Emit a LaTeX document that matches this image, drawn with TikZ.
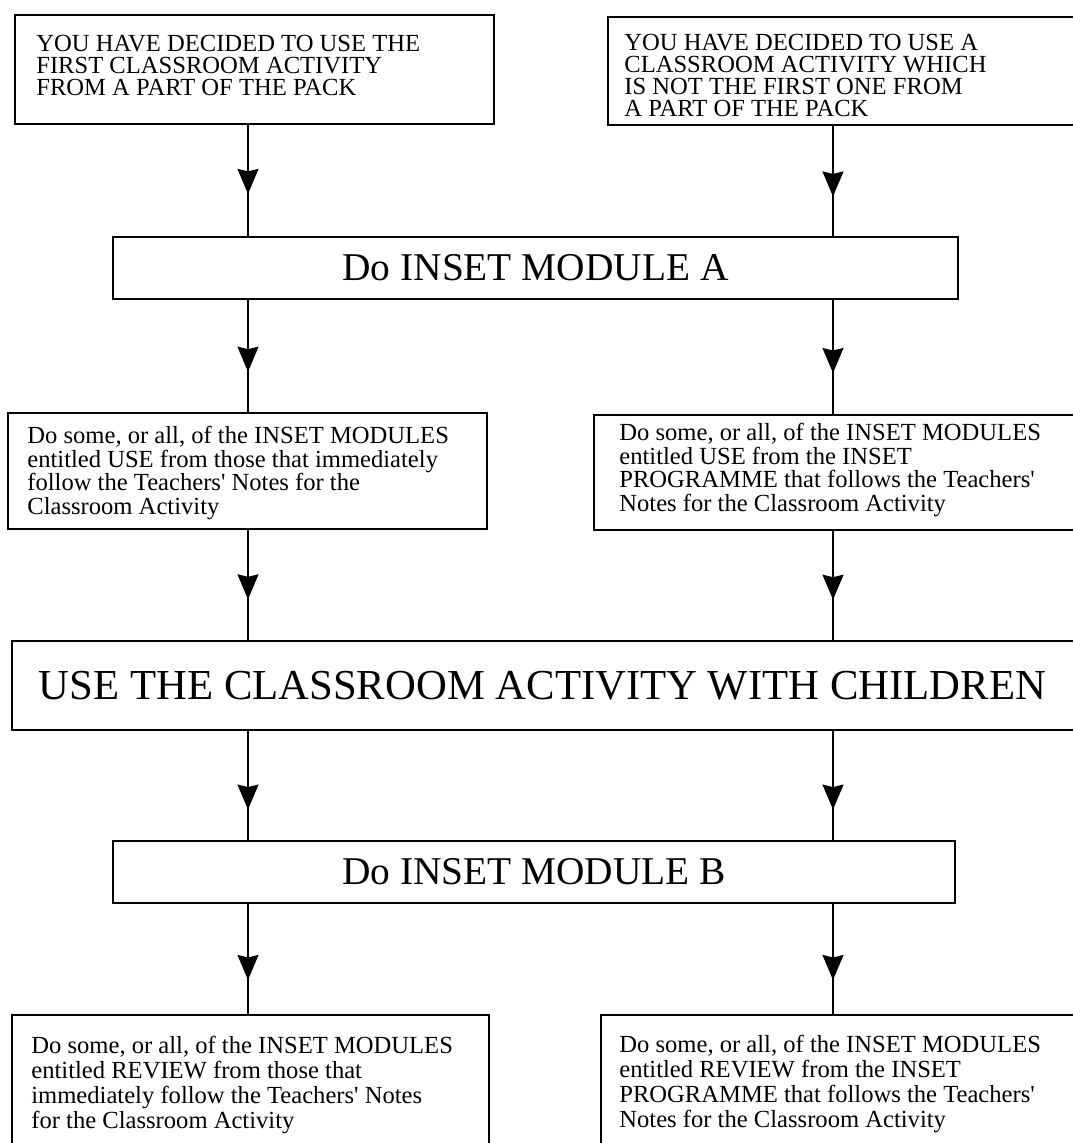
\documentclass[tikz,border=0pt]{standalone}
\usepackage{fontspec}
\setmainfont{Liberation Serif}
\usetikzlibrary{positioning,arrows.meta,decorations.markings}

\begin{document}
\begin{tikzpicture}[
	% Node styles
	stepbox/.style={
		rectangle,
		draw=black,
		line width=0.9pt,
		inner sep=0pt
	},
	choicetext/.style={
		anchor=west,
		align=left,
		inner sep=0pt,
		font=\fontsize{14}{12.6}\selectfont
	},
	notetext/.style={
		anchor=west,
		align=left,
		inner sep=0pt,
		font=\fontsize{14}{#1}\selectfont
	},
	modulebox/.style={
		stepbox,
		font=\fontsize{22.4}{26}\selectfont
	},
	flow/.style={
		line width=0.9pt,
		postaction={decorate},
		decoration={markings,
			mark=at position #1 with {\arrow{Stealth[length=0.5cm, width=0.42cm, inset=0.05cm]}}}
	},
	flow/.default=0.65
	]
	
	% Page frame
	\useasboundingbox (0,0) rectangle (21.46,22.86);
	\fill[white] (0,0) rectangle (21.46,22.86);
	\clip (0,0) rectangle (21.46,22.86);
	
	% Columns for the connectors
	\coordinate (colL) at (4.96,0);
	\coordinate (colR) at (16.66,0);
	
	% Starting choices
	\node[stepbox, minimum width=9.58cm, minimum height=2.18cm] (first) at (5.09,21.47) {};
	\node[choicetext] (firsttext) at (0.72,21.55) {YOU HAVE DECIDED TO USE THE\\FIRST CLASSROOM ACTIVITY\\FROM A PART OF THE PACK};
	
	\node[stepbox, minimum width=9.84cm, minimum height=2.16cm] (other) at (17.08,21.44) {};
	\node[choicetext] (othertext) at (12.48,21.35) {YOU HAVE DECIDED TO USE A\\CLASSROOM ACTIVITY WHICH\\IS NOT THE FIRST ONE FROM\\A PART OF THE PACK};
	
	% Module A
	\node[modulebox, minimum width=16.9cm, minimum height=1.24cm] (modA) at (10.71,17.50) {Do INSET MODULE A};
	
	% USE modules
	\node[stepbox, minimum width=9.58cm, minimum height=2.32cm] (useL) at (4.95,13.44) {};
	\node[notetext=13.3] (useLtext) at (0.54,13.40) {Do some, or all, of the INSET MODULES\\entitled USE from those that immediately\\follow the Teachers\textquotesingle\ Notes for the\\Classroom Activity};
	
	\node[stepbox, minimum width=10.12cm, minimum height=2.30cm] (useR) at (16.94,13.41) {};
	\node[notetext=13.3] (useRtext) at (12.38,13.46) {Do some, or all, of the INSET MODULES\\entitled USE from the INSET\\PROGRAMME that follows the Teachers\textquotesingle\\Notes for the Classroom Activity};
	
	% Classroom activity
	\node[stepbox, minimum width=21.76cm, minimum height=1.78cm] (children) at (11.12,9.15) {};
	\node[font=\fontsize{24.3}{28}\selectfont, inner sep=0pt] (childrentext) at (10.85,9.15) {USE THE CLASSROOM ACTIVITY WITH CHILDREN};
	
	% Module B
	\node[modulebox, minimum width=16.84cm, minimum height=1.24cm] (modB) at (10.68,5.42) {Do INSET MODULE B};
	
	% REVIEW modules
	\node[stepbox, minimum width=9.54cm, minimum height=3.30cm] (reviewL) at (5.01,0.91) {};
	\node[notetext=14.4] (reviewLtext) at (0.62,1.16) {Do some, or all, of the INSET MODULES\\entitled REVIEW from those that\\immediately follow the Teachers\textquotesingle\ Notes\\for the Classroom Activity};
	
	\node[stepbox, minimum width=9.98cm, minimum height=3.30cm] (reviewR) at (17.01,0.91) {};
	\node[notetext=14.4] (reviewRtext) at (12.38,1.18) {Do some, or all, of the INSET MODULES\\entitled REVIEW from the INSET\\PROGRAMME that follows the Teachers\textquotesingle\\Notes for the Classroom Activity};
	
	% Connectors
	\draw[flow=0.62] (first.south -| colL) -- (modA.north -| colL);
	\draw[flow=0.64] (other.south -| colR) -- (modA.north -| colR);
	\draw[flow=0.64] (modA.south -| colL) -- (useL.north -| colL);
	\draw[flow=0.64] (modA.south -| colR) -- (useR.north -| colR);
	\draw[flow=0.63] (useL.south -| colL) -- (children.north -| colL);
	\draw[flow=0.63] (useR.south -| colR) -- (children.north -| colR);
	\draw[flow=0.72] (children.south -| colL) -- (modB.north -| colL);
	\draw[flow=0.72] (children.south -| colR) -- (modB.north -| colR);
	\draw[flow=0.69] (modB.south -| colL) -- (reviewL.north -| colL);
	\draw[flow=0.69] (modB.south -| colR) -- (reviewR.north -| colR);
	
\end{tikzpicture}
\end{document}
